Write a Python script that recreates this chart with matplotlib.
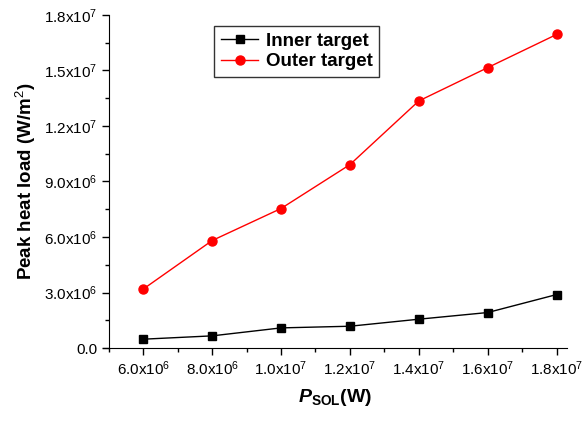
import matplotlib.pyplot as plt
from matplotlib.ticker import MultipleLocator, FixedLocator

plt.rcParams['font.family'] = ['Liberation Sans', 'DejaVu Sans']
plt.rcParams['mathtext.fontset'] = 'custom'
plt.rcParams['mathtext.rm'] = 'Liberation Sans'
plt.rcParams['mathtext.it'] = 'Liberation Sans:italic:bold'
plt.rcParams['mathtext.bf'] = 'Liberation Sans:bold'

# data
p_sol = [6e6, 8e6, 1.0e7, 1.2e7, 1.4e7, 1.6e7, 1.8e7]
inner = [0.48e6, 0.66e6, 1.09e6, 1.18e6, 1.56e6, 1.92e6, 2.89e6]
outer = [3.19e6, 5.81e6, 7.54e6, 9.91e6, 13.35e6, 15.15e6, 16.94e6]

x_labels = ['6.0x10$^{6}$', '8.0x10$^{6}$', '1.0x10$^{7}$', '1.2x10$^{7}$',
            '1.4x10$^{7}$', '1.6x10$^{7}$', '1.8x10$^{7}$']
y_ticks = [0, 3e6, 6e6, 9e6, 1.2e7, 1.5e7, 1.8e7]
y_labels = ['0.0', '3.0x10$^{6}$', '6.0x10$^{6}$', '9.0x10$^{6}$',
            '1.2x10$^{7}$', '1.5x10$^{7}$', '1.8x10$^{7}$']

fig = plt.figure(figsize=(5.82, 4.25), dpi=100)
ax = fig.add_axes([0.177, 0.181, 0.797, 0.784])

ax.plot(p_sol, inner, color='black', marker='s', markersize=5.5, linewidth=1,
        label='Inner target')
ax.plot(p_sol, outer, color='red', marker='o', markersize=6.5, linewidth=1,
        label='Outer target')

ax.set_xlim(4.83e6, 1.83e7)
ax.set_ylim(0, 1.8e7)
ax.spines['top'].set_visible(False)
ax.spines['right'].set_visible(False)
ax.spines['left'].set_position(('data', 5e6))

ax.xaxis.set_major_locator(FixedLocator(p_sol))
ax.xaxis.set_minor_locator(FixedLocator([5e6, 7e6, 9e6, 1.1e7, 1.3e7, 1.5e7, 1.7e7]))
ax.set_xticklabels(x_labels)
ax.yaxis.set_major_locator(FixedLocator(y_ticks))
ax.yaxis.set_minor_locator(MultipleLocator(1.5e6))
ax.set_yticklabels(y_labels)

ax.tick_params(which='major', direction='out', length=5, width=1, labelsize=11)
ax.tick_params(which='minor', direction='out', length=3, width=1)

ax.set_xlabel(r'$\mathit{P}_{\mathbf{SOL}}$(W)', fontsize=14, fontweight='bold',
              labelpad=6)
ax.set_ylabel('Peak heat load (W/m$^{2}$)', fontsize=13.5, fontweight='bold',
              labelpad=4)

leg = ax.legend(loc='upper left', bbox_to_anchor=(0.22, 0.995), frameon=True,
                fancybox=False, edgecolor='black', handlelength=2.0,
                handletextpad=0.4, prop={'weight': 'bold', 'size': 13.5},
                borderpad=0.35, labelspacing=0.2)
leg.get_frame().set_linewidth(1)

plt.savefig('out.png', dpi=100)
